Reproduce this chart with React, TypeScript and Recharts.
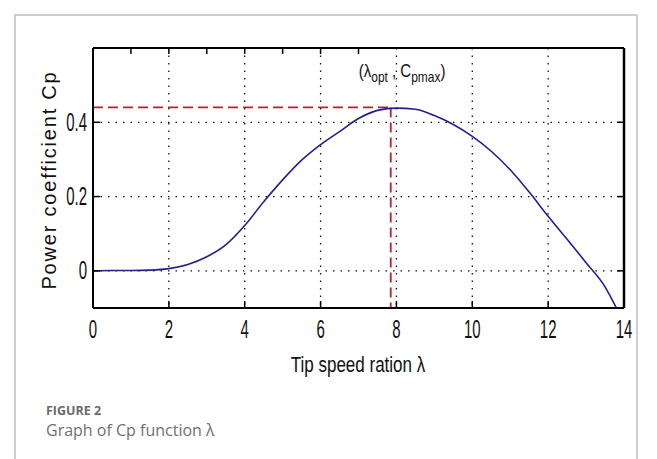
import React from "react";
import { LineChart, Line, XAxis, YAxis, CartesianGrid, ReferenceLine, ReferenceDot } from "recharts";

// tip speed ratio λ and power coefficient Cp
const lambdaValues = [0, 0.5, 1, 1.5, 2, 2.5, 3, 3.5, 4, 4.5, 5, 5.5, 6, 6.5, 7, 7.5, 8, 8.5, 9, 9.5, 10, 10.5, 11, 11.5, 12, 12.5, 13, 13.5, 13.8];
const cpValues = [0, 0.001, 0.001, 0.002, 0.006, 0.017, 0.038, 0.07, 0.122, 0.186, 0.245, 0.298, 0.34, 0.375, 0.41, 0.432, 0.438, 0.435, 0.418, 0.394, 0.362, 0.322, 0.272, 0.212, 0.147, 0.085, 0.022, -0.043, -0.1];
const xTicks = [0, 2, 4, 6, 8, 10, 12, 14];
const yTicks = [0, 0.2, 0.4];
const lambdaOpt = 7.85;
const cpMax = 0.44;
const labelLambda = 8.15;
const labelCp = 0.535;

const data = lambdaValues.map((l, i) => ({ l, cp: cpValues[i] }));

const tickFont = "'Liberation Sans', Arial, sans-serif";

const BottomTick = (p: any) => (
  <g>
    <line x1={p.x} x2={p.x} y1={p.y} y2={p.y - 7} stroke="#000" strokeWidth={1.5} />
    <text transform={`translate(${p.x},${p.y + 30}) scale(1,1.7)`} textAnchor="middle" fontSize={15} fontFamily={tickFont} fill="#111">
      {p.payload.value}
    </text>
  </g>
);

const LeftTick = (p: any) => (
  <g>
    <line x1={p.x} x2={p.x + 7} y1={p.y} y2={p.y} stroke="#000" strokeWidth={1.5} />
    <text transform={`translate(${p.x - 6},${p.y + 8.5}) scale(1,1.7)`} textAnchor="end" fontSize={15} fontFamily={tickFont} fill="#111">
      {p.payload.value}
    </text>
  </g>
);

const TopTick = (p: any) => <line x1={p.x} x2={p.x} y1={p.y} y2={p.y + 6} stroke="#000" strokeWidth={1.5} />;
const RightTick = (p: any) => <line x1={p.x} x2={p.x - 7} y1={p.y} y2={p.y} stroke="#000" strokeWidth={1.5} />;

const OptLabel = (p: any) => {
  const vb = p.viewBox || {};
  const cx = vb.x + (vb.width || 0) / 2;
  const cy = vb.y + (vb.height || 0) / 2;
  return (
    <text transform={`translate(${cx},${cy + 5}) scale(1,1.2)`} textAnchor="middle" fontSize={15} fontFamily={tickFont} fill="#111">
      <tspan>(λ</tspan>
      <tspan fontSize={12} dy={4}>opt</tspan>
      <tspan dy={-4}> , C</tspan>
      <tspan fontSize={12} dy={4}>pmax</tspan>
      <tspan dy={-4}>)</tspan>
    </text>
  );
};

export default function App() {
  return (
    <div style={{ position: "absolute", left: 0, top: 0, width: 657, height: 459, background: "#fff", overflow: "hidden" }}>
      <div style={{ position: "absolute", left: 14, top: 14, width: 624, height: 470, border: "2px solid #cfcfcf", boxSizing: "border-box" }} />
      <LineChart
        width={657}
        height={459}
        data={data}
        margin={{ top: 47, left: 92, right: 32, bottom: 150 }}
        style={{ position: "absolute", left: 0, top: 0 }}
      >
        <CartesianGrid stroke="#111" strokeDasharray="1.5 6" strokeWidth={1.3} />
        <XAxis dataKey="l" type="number" domain={[0, 14]} ticks={xTicks} allowDataOverflow height={1} tickSize={0} tickMargin={0} tickLine={false} tick={BottomTick} axisLine={{ stroke: "#000", strokeWidth: 2 }} />
        <XAxis xAxisId="top" orientation="top" type="number" domain={[0, 14]} ticks={xTicks} allowDataOverflow height={1} tickSize={0} tickMargin={0} tickLine={false} tick={TopTick} axisLine={{ stroke: "#000", strokeWidth: 2 }} />
        <YAxis type="number" domain={[-0.1, 0.6]} ticks={yTicks} allowDataOverflow width={1} tickSize={0} tickMargin={0} tickLine={false} tick={LeftTick} axisLine={{ stroke: "#000", strokeWidth: 2 }} />
        <YAxis yAxisId="right" orientation="right" type="number" domain={[-0.1, 0.6]} ticks={yTicks} allowDataOverflow width={1} tickSize={0} tickMargin={0} tickLine={false} tick={RightTick} axisLine={{ stroke: "#000", strokeWidth: 2.5 }} />
        <ReferenceLine segment={[{ x: 0, y: cpMax }, { x: lambdaOpt, y: cpMax }]} stroke="#b8232b" strokeWidth={1.8} strokeDasharray="10 5" />
        <ReferenceLine segment={[{ x: lambdaOpt, y: cpMax }, { x: lambdaOpt, y: -0.1 }]} stroke="#b8232b" strokeWidth={1.8} strokeDasharray="10 5" />
        <Line type="monotone" dataKey="cp" stroke="#20208f" strokeWidth={1.6} dot={false} isAnimationActive={false} />
        <ReferenceDot x={labelLambda} y={labelCp} r={0} fill="none" stroke="none" label={OptLabel} />
      </LineChart>
      <div style={{ position: "absolute", left: 358, top: 365, transform: "translate(-50%,-50%) scale(1,1.3)", fontFamily: tickFont, fontSize: 17, color: "#111", whiteSpace: "nowrap" }}>
        Tip speed ration λ
      </div>
      <div style={{ position: "absolute", left: 49, top: 180, transform: "translate(-50%,-50%) rotate(-90deg)", fontFamily: tickFont, fontSize: 20, letterSpacing: 1.8, color: "#111", whiteSpace: "nowrap" }}>
        Power coefficient Cp
      </div>
      <div style={{ position: "absolute", left: 46, top: 404, fontFamily: "'Open Sans', sans-serif", fontWeight: 700, fontSize: 12.5, color: "#6b6b6b", lineHeight: "14px" }}>
        FIGURE 2
      </div>
      <div style={{ position: "absolute", left: 46, top: 420, fontFamily: "'Open Sans', sans-serif", fontSize: 16, color: "#707070", lineHeight: "20px" }}>
        Graph of Cp function λ
      </div>
    </div>
  );
}
